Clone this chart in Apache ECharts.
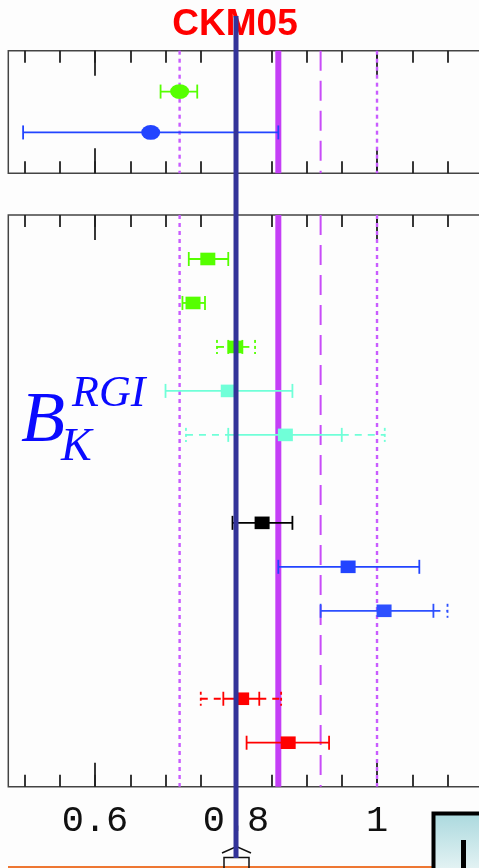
<!DOCTYPE html>
<html>
<head>
<meta charset="utf-8">
<script src="https://cdn.jsdelivr.net/npm/echarts@6/dist/echarts.min.js"></script>
<style>
  html, body { margin: 0; padding: 0; background: #fdfdfd; }
  #chart { width: 479px; height: 868px; }
</style>
</head>
<body>
<div id="chart"></div>
<script>
// ---- x scale and ticks ----
const xMin = 0.477;
const xMax = 1.18;
const minorTicks = [0.5, 0.55, 0.6, 0.65, 0.7, 0.75, 0.8, 0.85, 0.9, 0.95, 1.0, 1.05, 1.1, 1.15];
const majorTicks = [0.6, 0.8, 1.0];
const tickLabels = [0.6, 0.8, 1.0];

// ---- reference band (central value, 1 sigma, 2 sigma) ----
const bandCenter = 0.86;
const bandInner = [0.80, 0.92];
const bandOuter = [0.72, 1.00];
const ckmValue = 0.80;

// ---- upper panel ----
const topRows = [1, 2];
const topValues = [0.720, 0.679];
const topLow = [0.693, 0.498];
const topHigh = [0.745, 0.860];

// ---- lower panel ----
const rows = [1, 2, 3, 4, 5, 7, 8, 9, 11, 12];
const values = [0.760, 0.739, 0.799, 0.789, 0.870, 0.837, 0.959, 1.010, 0.808, 0.874];
const statLow = [0.733, 0.724, 0.789, 0.700, 0.789, 0.795, 0.860, 0.920, 0.782, 0.815];
const statHigh = [0.789, 0.756, 0.809, 0.880, 0.950, 0.880, 1.060, 1.080, 0.833, 0.932];
const totLow = [null, null, 0.773, null, 0.729, null, null, 0.920, 0.750, null];
const totHigh = [null, null, 0.827, null, 1.011, null, null, 1.100, 0.864, null];

// ---- styling ----
const topColors = ['#55ff00', '#2244ff'];
const rowColors = ['#55ff00', '#55ff00', '#55ff00', '#70ffd8', '#70ffd8',
                   '#000000', '#2244ff', '#2d50ff', '#ff0000', '#ff0000'];
const purple = '#c43ff6';
const frameColor = '#444';
const pxPerUnit = 705;
const gridLeft = 8.3;
const gridWidth = (xMax - xMin) * pxPerUnit;

const chart = echarts.init(document.getElementById('chart'), null, { renderer: 'canvas' });

function tickAxis(gridIndex, position, values, length, labels) {
  return {
    type: 'value', gridIndex, position, min: xMin, max: xMax,
    axisLine: { show: false, onZero: false },
    splitLine: { show: false },
    axisTick: { show: true, inside: true, length, customValues: values,
                lineStyle: { color: '#222', width: 1.8 } },
    axisLabel: labels ? {
      show: true, customValues: tickLabels, margin: 16,
      fontFamily: 'Liberation Mono', fontSize: 37, color: '#111',
      formatter: v => String(Math.round(v * 100) / 100)
    } : { show: false }
  };
}

// vertical reference line spanning a grid
function vline(width, dash, color) {
  return function (params, api) {
    const cs = params.coordSys;
    const x = api.coord([api.value(0), 0])[0];
    return {
      type: 'line',
      shape: { x1: x, y1: cs.y, x2: x, y2: cs.y + cs.height },
      style: { stroke: color, lineWidth: width, lineDash: dash }
    };
  };
}

function bandSeries(xi, yi) {
  return [
    { type: 'custom', xAxisIndex: xi, yAxisIndex: yi, z: 2, silent: true,
      renderItem: vline(2.4, [4, 4], '#c95cff'), data: bandOuter.map(v => [v]) },
    { type: 'custom', xAxisIndex: xi, yAxisIndex: yi, z: 2, silent: true,
      renderItem: vline(2, [20, 10], '#c84cf8'), data: bandInner.map(v => [v]) },
    { type: 'custom', xAxisIndex: xi, yAxisIndex: yi, z: 2, silent: true,
      renderItem: vline(6, null, purple), data: [[bandCenter]] }
  ];
}

// point with error bars; dashed extension for the total error
function errorItem(marker) {
  return function (params, api) {
    const v = api.value(0), r = api.value(1);
    const lo = api.value(2), hi = api.value(3);
    const tlo = api.value(4), thi = api.value(5);
    const color = api.visual('color');
    const c = api.coord([v, r]);
    const xl = api.coord([lo, r])[0], xh = api.coord([hi, r])[0];
    const cap = 7;
    const solid = { stroke: color, lineWidth: 1.8 };
    const dashed = { stroke: color, lineWidth: 1.8, lineDash: [7, 6] };
    const dashedCap = { stroke: color, lineWidth: 1.8, lineDash: [3, 3] };
    const kids = [
      { type: 'line', shape: { x1: xl, y1: c[1], x2: xh, y2: c[1] }, style: solid },
      { type: 'line', shape: { x1: xl, y1: c[1] - cap, x2: xl, y2: c[1] + cap }, style: solid },
      { type: 'line', shape: { x1: xh, y1: c[1] - cap, x2: xh, y2: c[1] + cap }, style: solid }
    ];
    if (!isNaN(tlo) && tlo < lo) {
      const xt = api.coord([tlo, r])[0];
      kids.push({ type: 'line', shape: { x1: xt, y1: c[1], x2: xl, y2: c[1] }, style: dashed });
      kids.push({ type: 'line', shape: { x1: xt, y1: c[1] - cap, x2: xt, y2: c[1] + cap }, style: dashedCap });
    }
    if (!isNaN(thi) && thi > hi) {
      const xt = api.coord([thi, r])[0];
      kids.push({ type: 'line', shape: { x1: xh, y1: c[1], x2: xt, y2: c[1] }, style: dashed });
      kids.push({ type: 'line', shape: { x1: xt, y1: c[1] - cap, x2: xt, y2: c[1] + cap }, style: dashedCap });
    }
    if (marker === 'ellipse') {
      kids.push({ type: 'circle', x: c[0], y: c[1], scaleY: 0.78,
                  shape: { cx: 0, cy: 0, r: 9.5 }, style: { fill: color } });
    } else {
      kids.push({ type: 'rect', shape: { x: c[0] - 7.5, y: c[1] - 6.3, width: 15, height: 12.6 },
                  style: { fill: color } });
    }
    return { type: 'group', children: kids };
  };
}

const topData = topValues.map((v, i) => ({
  value: [v, topRows[i], topLow[i], topHigh[i], null, null],
  itemStyle: { color: topColors[i] }
}));
const bottomData = values.map((v, i) => ({
  value: [v, rows[i], statLow[i], statHigh[i], totLow[i], totHigh[i]],
  itemStyle: { color: rowColors[i] }
}));

const gridBase = { left: gridLeft, width: gridWidth, containLabel: false, outerBoundsMode: 'none' };

const option = {
  backgroundColor: '#fdfdfd',
  animation: false,
  grid: [
    Object.assign({ top: 50.7, height: 122.6, show: true,
      borderColor: frameColor, borderWidth: 1.5, backgroundColor: 'transparent' }, gridBase),
    Object.assign({ top: 215, height: 571.7, show: true,
      borderColor: frameColor, borderWidth: 1.5, backgroundColor: 'transparent' }, gridBase),
    Object.assign({ top: 16, height: 842, show: false }, gridBase)
  ],
  xAxis: [
    tickAxis(0, 'bottom', minorTicks, 12),
    tickAxis(0, 'bottom', majorTicks, 25),
    tickAxis(0, 'top', minorTicks, 12),
    tickAxis(0, 'top', majorTicks, 25),
    tickAxis(1, 'bottom', minorTicks, 12, true),
    tickAxis(1, 'bottom', majorTicks, 24),
    tickAxis(1, 'top', minorTicks, 12),
    tickAxis(1, 'top', majorTicks, 25),
    { type: 'value', gridIndex: 2, min: xMin, max: xMax, show: false }
  ],
  yAxis: [
    { type: 'value', gridIndex: 0, min: 0, max: 3, inverse: true, show: false },
    { type: 'value', gridIndex: 1, min: 0, max: 13, inverse: true, show: false },
    { type: 'value', gridIndex: 2, min: 0, max: 1, show: false }
  ],
  series: [
    ...bandSeries(0, 0),
    ...bandSeries(4, 1),
    { type: 'custom', xAxisIndex: 0, yAxisIndex: 0, z: 3, silent: true,
      renderItem: errorItem('ellipse'), data: topData },
    { type: 'custom', xAxisIndex: 4, yAxisIndex: 1, z: 3, silent: true,
      renderItem: errorItem('rect'), data: bottomData },
    { type: 'custom', xAxisIndex: 8, yAxisIndex: 2, z: 10, silent: true,
      renderItem: vline(5, null, '#333399'), data: [[ckmValue]] }
  ],
  graphic: [
    { type: 'text', z: 5, style: {
        text: 'CKM05', x: 235, y: 25, font: 'bold 37px "Liberation Sans", Arial, sans-serif',
        fill: '#ff0000', align: 'center', verticalAlign: 'middle',
        textAlign: 'center', textVerticalAlign: 'middle' } },
    { type: 'text', z: 5, style: {
        text: 'B', x: 21, y: 422, font: 'italic 72px "Liberation Serif", serif',
        fill: '#0a0aff', align: 'left', verticalAlign: 'middle',
        textAlign: 'left', textVerticalAlign: 'middle' } },
    { type: 'text', z: 5, style: {
        text: 'RGI', x: 72, y: 394, font: 'italic 44px "Liberation Serif", serif',
        fill: '#0a0aff', align: 'left', verticalAlign: 'middle',
        textAlign: 'left', textVerticalAlign: 'middle' } },
    { type: 'text', z: 5, style: {
        text: 'K', x: 61, y: 448, font: 'italic 46px "Liberation Serif", serif',
        fill: '#0a0aff', align: 'left', verticalAlign: 'middle',
        textAlign: 'left', textVerticalAlign: 'middle' } },
    { type: 'line', z: 5, shape: { x1: 8, y1: 867, x2: 432, y2: 867 },
      style: { stroke: '#ee7733', lineWidth: 2 } },
    { type: 'rect', z: 5, shape: { x: 433.5, y: 813.5, width: 60, height: 70 },
      style: { stroke: '#000', lineWidth: 4,
               fill: new echarts.graphic.LinearGradient(0, 0, 0, 1, [
                 { offset: 0, color: '#a9d8dd' }, { offset: 1, color: '#f4fafa' }]) } },
    { type: 'rect', z: 6, shape: { x: 461, y: 840, width: 5, height: 30 },
      style: { fill: '#000' } },
    { type: 'polyline', z: 5, shape: { points: [[222, 853], [236.5, 846.5], [251, 853]] },
      style: { stroke: '#111', lineWidth: 1.5, fill: null } },
    { type: 'polyline', z: 5, shape: { points: [[224, 870], [224, 857.5], [249, 857.5], [249, 870]] },
      style: { stroke: '#111', lineWidth: 1.5, fill: null } }
  ]
};

chart.setOption(option);
</script>
</body>
</html>
